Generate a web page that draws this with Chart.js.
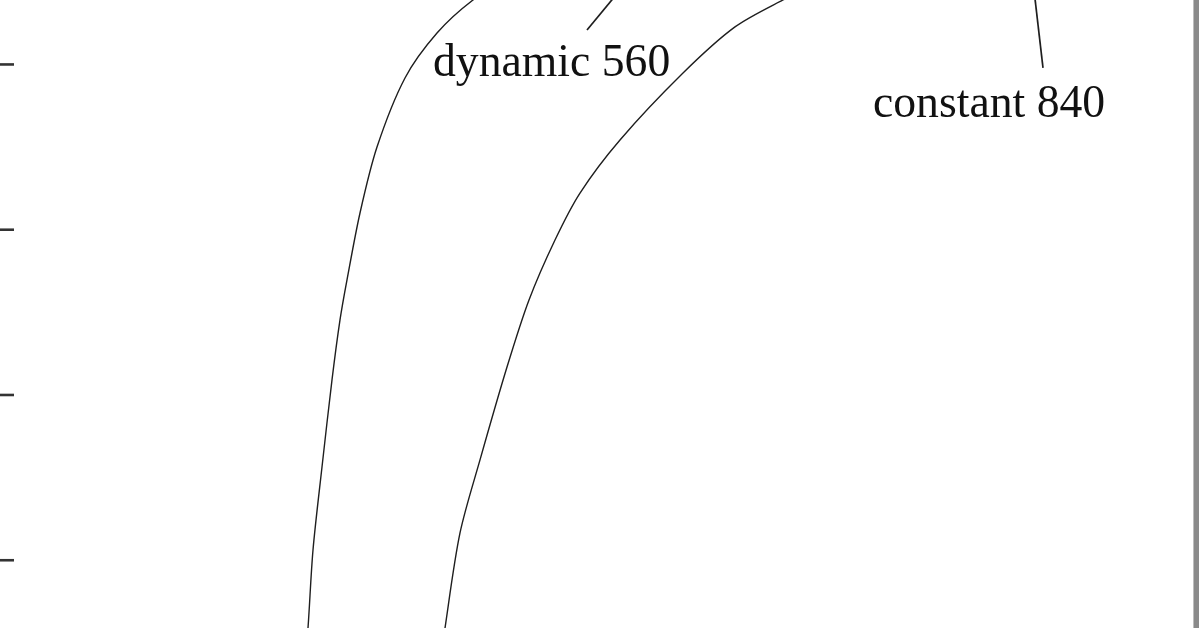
<!DOCTYPE html>
<html>
<head>
<meta charset="utf-8">
<script src="https://cdn.jsdelivr.net/npm/chart.js@4"></script>
<style>
  html, body { margin:0; padding:0; background:#fff; overflow:hidden; }
  #wrap { position:relative; width:1199px; height:628px; }
  #edge { position:absolute; left:1193px; top:0; width:6px; height:628px; background:#8a8a8a; border-left:1px solid #bdbdbd; box-sizing:border-box; }
</style>
</head>
<body>
<div id="wrap">
  <canvas id="c" width="1199" height="628"></canvas>
  <div id="edge"></div>
</div>
<script>
// Series: dynamic 560 (x, y), ordered bottom to top
const dynamicX = [30.5, 30.8, 31.3, 32.2, 33.2, 34.0, 34.7, 36.0, 37.7, 40.5, 43.7, 47.3, 50.0];
const dynamicY = [0.396, 0.59, 1.062, 1.564, 2.091, 2.454, 2.696, 3.101, 3.500, 3.918, 4.190, 4.39, 4.481];
// Series: constant 840
const constantX = [44.1, 44.5, 46.0, 48.0, 50.7, 52.9, 55.5, 58.0, 62.0, 68.3, 73.5, 78.3, 81.5];
const constantY = [0.396, 0.59, 1.165, 1.607, 2.169, 2.575, 2.938, 3.222, 3.543, 3.948, 4.227, 4.39, 4.481];
// Label leader lines
const dynamicLeaderX = [58.7, 62.0];
const dynamicLeaderY = [4.208, 4.45];
const constantLeaderX = [104.3, 103.4];
const constantLeaderY = [3.979, 4.45];
// Labels
const labelTexts = ['dynamic 560', 'constant 840'];
const labelX = [43.3, 87.3];
const labelY = [3.93, 3.682];
// Y tick values (labels fall outside the visible region)
const yTicks = [1, 2, 3, 4];
const xRange = [0, 119.9];
const yRange = [0.59, 4.39];

const pts = (xs, ys) => xs.map((x, i) => ({ x: x, y: ys[i] }));

const lineStyle = {
  showLine: true, borderColor: '#1e1e1e', borderWidth: 1.4,
  pointRadius: 0, fill: false, tension: 0.3
};

const overlay = {
  id: 'overlay',
  afterDatasetsDraw(chart) {
    const ctx = chart.ctx;
    const xs = chart.scales.x, ys = chart.scales.y;
    ctx.save();
    // inward y-axis ticks from the left border
    ctx.strokeStyle = '#333';
    ctx.lineWidth = 2.6;
    yTicks.forEach(v => {
      const py = ys.getPixelForValue(v);
      ctx.beginPath();
      ctx.moveTo(chart.chartArea.left, py);
      ctx.lineTo(chart.chartArea.left + 14, py);
      ctx.stroke();
    });
    // labels
    ctx.fillStyle = '#111';
    ctx.font = '45.7px "Liberation Serif", "DejaVu Serif", serif';
    ctx.textBaseline = 'alphabetic';
    ctx.textAlign = 'left';
    labelTexts.forEach((t, i) => {
      ctx.fillText(t, xs.getPixelForValue(labelX[i]), ys.getPixelForValue(labelY[i]));
    });
    ctx.restore();
  }
};

new Chart(document.getElementById('c'), {
  type: 'scatter',
  data: {
    datasets: [
      Object.assign({ label: labelTexts[0], data: pts(dynamicX, dynamicY) }, lineStyle),
      Object.assign({ label: labelTexts[1], data: pts(constantX, constantY) }, lineStyle),
      Object.assign({ label: 'leader1', data: pts(dynamicLeaderX, dynamicLeaderY) }, lineStyle, { tension: 0, borderWidth: 1.7 }),
      Object.assign({ label: 'leader2', data: pts(constantLeaderX, constantLeaderY) }, lineStyle, { tension: 0, borderWidth: 1.7 })
    ]
  },
  options: {
    responsive: false,
    animation: false,
    layout: { padding: 0 },
    plugins: { legend: { display: false }, tooltip: { enabled: false } },
    scales: {
      x: { type: 'linear', min: xRange[0], max: xRange[1], display: false },
      y: { type: 'linear', min: yRange[0], max: yRange[1], display: false }
    }
  },
  plugins: [overlay]
});
</script>
</body>
</html>
